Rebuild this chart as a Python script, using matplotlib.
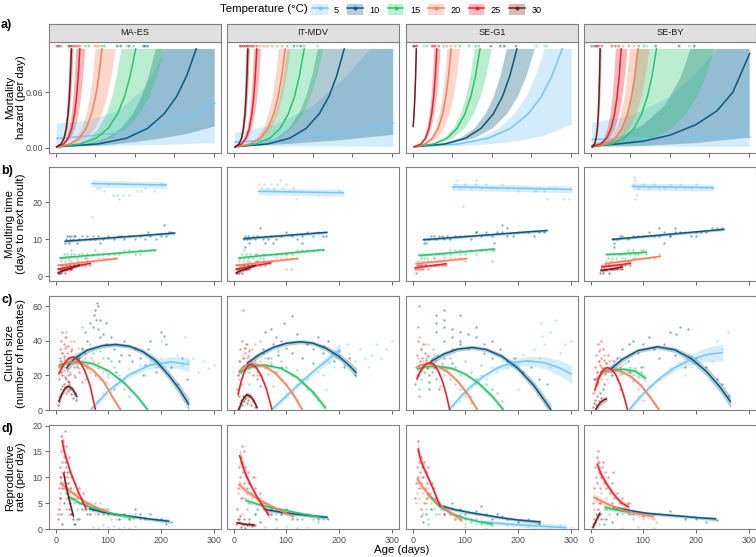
import matplotlib
matplotlib.use("Agg")
import matplotlib.pyplot as plt
from matplotlib.patches import Patch
from matplotlib.lines import Line2D

plt.rcParams['font.family'] = ['Liberation Sans', 'DejaVu Sans']

sites = ["MA-ES", "IT-MDV", "SE-G1", "SE-BY"]
temps = [5, 10, 15, 20, 25, 30]
colors = {5: "#74C6F8", 10: "#0B5A7E", 15: "#2BC46B", 20: "#F4805F", 25: "#E9212B", 30: "#7A1A1E"}

###########################################
###  a) mortality hazard (per day)      ###
lv = [0.001, 0.0041, 0.0103, 0.0209, 0.0366, 0.0556, 0.0775, 0.107]
cap = 0.107
rug_y = 0.110

haz_fit = {
    "MA-ES": {30: ([2, 10.4, 16, 20.2, 23.6, 26.1, 28, 30], lv),
              25: ([2, 15.2, 24, 30.6, 35.9, 39.8, 42.9, 46], lv),
              20: ([2, 27.8, 45, 57.9, 68.2, 76, 82, 88], lv),
              15: ([2, 47, 77, 99.5, 117.5, 131, 141.5, 152], lv),
              10: ([2, 81.5, 134.5, 174.3, 206, 229.9, 248.5, 267], lv),
              5: ([2, 50, 100, 150, 200, 250, 302], [0.010, 0.012, 0.015, 0.019, 0.025, 0.034, 0.048])},
    "IT-MDV": {30: ([3, 10.2, 15, 18.6, 21.5, 23.6, 25.3, 27], lv),
               25: ([3, 15.3, 23.5, 29.7, 34.6, 38.3, 41.1, 44], lv),
               20: ([3, 31.5, 50.5, 64.8, 76.2, 84.7, 91.4, 98], lv),
               15: ([3, 42.3, 68.5, 88.2, 103.9, 115.7, 124.8, 134], lv),
               10: ([3, 65.1, 106.5, 137.6, 162.4, 181, 195.5, 210], lv),
               5: ([3, 50, 100, 150, 200, 250, 303], [0.006, 0.0075, 0.0095, 0.0125, 0.016, 0.021, 0.027])},
    "SE-G1": {30: ([1, 2.5, 4, 5.5, 7], [0.023, 0.035, 0.052, 0.075, 0.107]),
              25: ([3, 15.9, 24.5, 31, 36.1, 40, 43, 46], lv),
              20: ([3, 24, 38, 48.5, 56.9, 63.2, 68.1, 73], lv),
              15: ([3, 40.5, 65.5, 84.3, 99.3, 110.5, 119.3, 128], lv),
              10: ([3, 61.5, 100.5, 129.8, 153.2, 170.7, 184.4, 198], lv),
              5: ([3, 87.3, 143.5, 185.7, 219.4, 244.7, 264.3, 284], lv)},
    "SE-BY": {30: ([3, 7.5, 10.5, 12.8, 14.6, 15.9, 17, 18], lv),
              25: ([3, 19.5, 30.5, 38.8, 45.4, 50.3, 54.2, 58], lv),
              20: ([3, 29.1, 46.5, 59.6, 70, 77.8, 83.9, 90], lv),
              15: ([3, 39.6, 64, 82.3, 96.9, 107.9, 116.5, 125], lv),
              10: ([3, 50, 100, 150, 200, 240, 270, 302], [0.002, 0.004, 0.007, 0.0135, 0.025, 0.040, 0.060, 0.102]),
              5: ([3, 100, 200, 302], [0.009, 0.010, 0.011, 0.012])},
}
haz_upper = {
    "MA-ES": {30: ([2, 9.5, 14.5, 18.3, 21.3, 23.5, 25.3, 27], lv),
              25: ([2, 13.1, 20.5, 26.1, 30.5, 33.8, 36.4, 39], lv),
              20: ([2, 24.2, 39, 50.1, 59, 65.6, 70.8, 76], lv),
              15: ([2, 38.9, 63.5, 82, 96.7, 107.8, 116.4, 125], lv),
              10: ([2, 58.4, 96, 124.2, 146.8, 163.7, 176.8, 190, 302], lv + [cap]),
              5: ([2, 60, 120, 170, 210, 302], [0.026, 0.029, 0.04, 0.065, 0.107, 0.107])},
    "IT-MDV": {30: ([3, 9.3, 13.5, 16.7, 19.2, 21.1, 22.5, 24], lv),
               25: ([3, 13.8, 21, 26.4, 30.7, 34, 36.5, 39], lv),
               20: ([3, 27.9, 44.5, 57, 66.9, 74.4, 80.2, 86], lv),
               15: ([3, 32.7, 52.5, 67.4, 79.2, 88.1, 95.1, 102], lv),
               10: ([3, 50.1, 81.5, 105, 123.9, 138, 149, 160, 303], lv + [cap]),
               5: ([3, 80, 150, 210, 260, 303], [0.016, 0.025, 0.045, 0.075, 0.107, 0.107])},
    "SE-G1": {30: ([0, 1.5, 3, 4.5, 6], [0.023, 0.035, 0.052, 0.075, 0.107]),
              25: ([3, 14.4, 22, 27.7, 32.3, 35.7, 38.3, 41], lv),
              20: ([3, 21.9, 34.5, 44, 51.5, 57.2, 61.6, 66], lv),
              15: ([3, 37.5, 60.5, 77.8, 91.6, 101.9, 110, 118], lv),
              10: ([3, 55.8, 91, 117.4, 138.5, 154.4, 166.7, 179], lv),
              5: ([3, 77.4, 127, 164.2, 194, 216.3, 233.6, 251, 302], lv + [cap])},
    "SE-BY": {30: ([3, 6.9, 9.5, 11.5, 13, 14.2, 15.1, 16], lv),
              25: ([3, 16.5, 25.5, 32.3, 37.7, 41.7, 44.9, 48], lv),
              20: ([3, 24.6, 39, 49.8, 58.4, 64.9, 70, 75], lv),
              15: ([3, 28.5, 45.5, 58.3, 68.5, 76.1, 82.1, 88], lv),
              10: ([3, 50, 100, 140, 170, 190, 302], [0.004, 0.010, 0.025, 0.045, 0.075, 0.107, 0.107]),
              5: ([3, 80, 150, 200, 240, 302], [0.027, 0.035, 0.055, 0.08, 0.107, 0.107])},
}
haz_lower = {
    "MA-ES": {30: ([2, 11.6, 18, 22.8, 26.6, 29.5, 31.8, 34], lv),
              25: ([2, 18.2, 29, 37.1, 43.6, 48.4, 52.2, 56], lv),
              20: ([2, 35.6, 58, 74.8, 88.2, 98.3, 106.2, 114], lv),
              15: ([2, 63.5, 104.5, 135.3, 159.9, 178.3, 192.7, 207], lv),
              10: ([2, 100, 150, 200, 250, 302], [0.0, 0.003, 0.006, 0.010, 0.015, 0.023]),
              5: ([2, 100, 200, 302], [0.0015, 0.002, 0.003, 0.005])},
    "IT-MDV": {30: ([3, 11.4, 17, 21.2, 24.6, 27.1, 29, 31], lv),
               25: ([3, 17.7, 27.5, 34.9, 40.7, 45.1, 48.6, 52], lv),
               20: ([3, 34.5, 55.5, 71.3, 83.9, 93.3, 100.7, 108], lv),
               15: ([3, 53.1, 86.5, 111.6, 131.6, 146.6, 158.3, 170], lv),
               10: ([3, 100, 200, 303], [0.001, 0.004, 0.008, 0.014]),
               5: ([3, 100, 200, 303], [0.0015, 0.0015, 0.0015, 0.001])},
    "SE-G1": {30: ([2, 3.5, 5, 6.5, 8], [0.023, 0.035, 0.052, 0.075, 0.107]),
              25: ([3, 18, 28, 35.5, 41.5, 46, 49.5, 53], lv),
              20: ([3, 29.1, 46.5, 59.6, 70, 77.8, 83.9, 90], lv),
              15: ([3, 47.1, 76.5, 98.6, 116.2, 129.4, 139.7, 150], lv),
              10: ([3, 71.7, 117.5, 151.9, 179.3, 200, 216, 232], lv),
              5: ([3, 100, 150, 200, 250, 302], [0.001, 0.002, 0.004, 0.007, 0.013, 0.025])},
    "SE-BY": {30: ([3, 8.4, 12, 14.7, 16.9, 18.5, 19.7, 21], lv),
              25: ([3, 23.1, 36.5, 46.6, 54.6, 60.6, 65.3, 70], lv),
              20: ([3, 35.7, 57.5, 73.9, 86.9, 96.7, 104.4, 112], lv),
              15: ([3, 72.6, 119, 153.8, 181.6, 202.5, 218.8, 235], lv),
              10: ([3, 100, 200, 302], [0.0005, 0.002, 0.005, 0.011]),
              5: ([3, 100, 200, 302], [0.002, 0.0015, 0.001, 0.001])},
}
# ages at death (rug along the top)
death_age = {
    "MA-ES": [2.2, 5.5, 8.6, 11.8, 24.6, 27.8, 31, 35.4, 39.3, 43.8, 48.2, 56.5, 62.9, 74.4, 78.8, 83.3,
              88.4, 93, 117, 123.5, 135, 139.5, 147.8, 167, 170, 174.6],
    "IT-MDV": [12.4, 15, 18.7, 22, 25.1, 28, 31.5, 35, 38, 44.4, 50.7, 57.1, 63.5, 73, 82.6, 92.2, 101.8,
               114.5, 121, 127.4, 133.8, 159.3],
    "SE-G1": [1.6, 4, 8, 20.8, 27.1, 36.7, 40, 43.1, 49.5, 59, 65.4, 73, 81.4, 89.6, 106.9, 119.6, 126,
              148.4, 166.3, 174, 196.3, 234.6, 250.6, 255],
    "SE-BY": [2.2, 5, 8.6, 12, 15, 21.4, 40.5, 46.9, 53.3, 61.6, 72.5, 82, 91.6, 101.2, 107.5, 123.5,
              168.2, 187.4, 197],
}
death_temp = {
    "MA-ES": [25, 10, 25, 5, 30, 30, 30, 25, 25, 25, 20, 15, 15, 20, 20, 20, 15, 15, 10, 10, 5, 10, 15, 10, 10, 10],
    "IT-MDV": [30, 25, 30, 25, 30, 25, 25, 25, 25, 25, 20, 20, 20, 20, 20, 20, 15, 10, 15, 10, 15, 5],
    "SE-G1": [30, 30, 30, 5, 15, 25, 25, 25, 25, 20, 20, 20, 20, 15, 15, 15, 15, 10, 10, 10, 10, 5, 5, 5],
    "SE-BY": [10, 5, 30, 30, 25, 25, 25, 25, 25, 20, 20, 20, 15, 15, 5, 10, 10, 5, 10],
}

###########################################
###  b) moulting time                    ###
moult_fit = {
    "MA-ES": {5: ([69, 210], [25.1, 24.7]), 10: ([18, 226], [9.5, 11.7]), 15: ([8.6, 189], [5.0, 7.1]),
              20: ([5, 116], [3.0, 4.8]), 25: ([5, 66], [2.0, 3.5]), 30: ([5, 45], [1.0, 3.0])},
    "IT-MDV": {5: ([47.5, 208.5], [23.0, 22.6]), 10: ([19, 177], [10.2, 11.9]), 15: ([10.5, 171], [5.0, 7.2]),
               20: ([5, 121], [3.0, 4.8]), 25: ([5, 70], [2.0, 3.6]), 30: ([5, 40], [1.0, 2.9])},
    "SE-G1": {5: ([76, 302], [24.2, 23.5]), 10: ([20.7, 255], [9.9, 12.4]), 15: ([12.4, 155], [5.6, 7.4]),
              20: ([6.7, 102.5], [3.4, 4.8]), 25: ([5, 63.5], [2.3, 3.4])},
    "SE-BY": {5: ([79, 233], [24.3, 24.0]), 10: ([41.5, 253], [10.0, 12.7]), 15: ([31, 105.7], [5.9, 6.5]),
              20: ([28, 132], [3.4, 5.4]), 25: ([21, 75.7], [2.5, 3.5]), 30: ([20, 60], [1.5, 2.5])},
}
moult_ci = {5: 0.9, 10: 0.35, 15: 0.3, 20: 0.3, 25: 0.3, 30: 0.4}
moult_pts = {
    "MA-ES": {
        5: ([69, 79, 85, 92, 108, 117, 120, 127, 140, 154, 162, 186, 100, 130, 170, 200],
            [16, 24, 24, 23, 22, 22, 21, 22, 22, 23, 23, 23, 25, 25, 24, 25]),
        10: ([18, 20, 22, 25, 28, 30, 33, 36, 40, 45, 50, 55, 60, 65, 70, 75, 80, 90, 100, 110, 120, 130, 140, 150,
              160, 170, 180, 190, 200, 210, 220, 25, 35, 85, 125, 175, 205, 215],
             [9, 10, 11, 9, 10, 11, 10, 11, 9, 10, 11, 10, 11, 10, 11, 10, 11, 10, 11, 10, 11, 10, 11, 10, 11, 10,
              11, 10, 11, 11, 12, 11, 11, 9, 11, 12, 14, 12]),
        15: ([9, 12, 15, 18, 22, 26, 30, 35, 40, 45, 50, 55, 60, 70, 80, 90, 100, 110, 120, 130, 140, 150, 160, 170,
              180, 188, 30, 75, 160],
             [5, 5, 6, 5, 6, 5, 6, 6, 5, 6, 6, 5, 6, 6, 6, 6, 6, 6, 6, 7, 7, 6, 7, 7, 7, 7, 7, 7, 6]),
        20: ([5, 8, 10, 12, 15, 18, 20, 25, 30, 35, 40, 45, 50, 55, 60, 70, 80, 90, 100, 110, 115, 30, 60],
             [3, 3, 4, 3, 3, 4, 3, 4, 4, 3, 4, 4, 4, 5, 4, 4, 5, 5, 5, 5, 5, 2, 5]),
        25: ([5, 7, 9, 11, 13, 15, 18, 20, 22, 25, 28, 30, 35, 40, 45, 50, 55, 60, 65],
             [2, 1, 2, 2, 3, 2, 2, 3, 2, 3, 3, 2, 3, 3, 3, 3, 3, 4, 3]),
        30: ([5, 7, 9, 11, 13, 15, 17, 20, 25, 30, 35, 40], [1, 1, 2, 1, 2, 2, 1, 2, 2, 2, 3, 3]),
    },
    "IT-MDV": {
        5: ([48, 52, 58, 64, 70, 76, 82, 88, 94, 100, 106, 112, 118, 130, 160, 200],
            [25, 24, 25, 24, 25, 24, 25, 26, 24, 25, 23, 24, 21, 23, 22, 23]),
        10: ([19, 22, 25, 28, 32, 36, 40, 45, 50, 55, 60, 65, 70, 80, 90, 100, 110, 120, 130, 140, 150, 160, 170,
              176, 22, 30, 60, 75, 130],
             [10, 11, 10, 11, 10, 11, 10, 11, 13, 10, 11, 10, 11, 10, 11, 12, 11, 10, 11, 12, 11, 12, 11, 11, 8, 9,
              9, 9, 9]),
        15: ([10, 13, 16, 20, 24, 28, 32, 36, 40, 45, 50, 55, 60, 70, 80, 90, 100, 110, 120, 130, 140, 150, 160,
              170, 20, 100],
             [5, 5, 6, 5, 6, 5, 6, 5, 6, 6, 5, 6, 6, 6, 6, 6, 6, 6, 7, 7, 7, 7, 7, 7, 7, 6]),
        20: ([5, 8, 10, 12, 15, 18, 20, 25, 30, 35, 40, 45, 50, 55, 60, 70, 80, 90, 100, 110, 120, 100, 108],
             [3, 3, 4, 3, 3, 4, 3, 4, 4, 3, 4, 4, 4, 5, 4, 4, 5, 5, 5, 5, 5, 2, 2]),
        25: ([5, 7, 9, 11, 13, 15, 18, 20, 22, 25, 28, 30, 35, 40, 45, 50, 55, 60, 65, 70],
             [2, 2, 3, 2, 3, 2, 3, 3, 2, 3, 3, 3, 3, 3, 4, 3, 4, 3, 4, 4]),
        30: ([5, 7, 9, 11, 13, 15, 18, 21, 25, 30, 35, 40], [1, 1, 2, 1, 2, 1, 2, 2, 2, 2, 3, 3]),
    },
    "SE-G1": {
        5: ([77, 80, 90, 100, 110, 120, 130, 140, 150, 160, 170, 180, 190, 200, 210, 220, 230, 240, 250, 260, 270,
             85, 120, 235, 255, 285, 297, 95],
            [24, 25, 24, 25, 24, 25, 24, 25, 24, 24, 25, 24, 24, 23, 24, 24, 23, 24, 23, 24, 24, 26, 26, 23, 21, 21,
             21, 19]),
        10: ([21, 25, 30, 35, 40, 45, 50, 55, 60, 65, 70, 80, 90, 100, 110, 120, 130, 140, 150, 160, 170, 180, 190,
              200, 210, 220, 230, 240, 250, 22, 180, 170, 120, 155],
             [10, 9, 10, 11, 11, 10, 11, 11, 10, 11, 10, 11, 11, 11, 10, 12, 11, 12, 11, 12, 12, 11, 11, 12, 12, 12,
              11, 12, 12, 9, 13, 14, 12, 9]),
        15: ([12, 15, 18, 21, 24, 27, 30, 35, 40, 45, 50, 55, 60, 70, 80, 90, 100, 110, 120, 130, 140, 150, 154, 70,
              90, 150],
             [6, 5, 6, 5, 6, 5, 6, 6, 5, 6, 6, 6, 6, 6, 7, 6, 6, 7, 6, 7, 7, 7, 7, 7, 7, 4]),
        20: ([7, 9, 11, 13, 15, 18, 21, 24, 27, 30, 35, 40, 45, 50, 55, 60, 70, 80, 90, 100],
             [3, 4, 3, 4, 3, 4, 4, 3, 4, 4, 4, 5, 4, 4, 4, 5, 5, 5, 5, 4]),
        25: ([5, 6, 8, 10, 12, 14, 16, 18, 20, 23, 26, 30, 35, 40, 45, 50, 55, 60, 63],
             [2, 1, 2, 3, 2, 3, 2, 3, 2, 3, 3, 2, 3, 3, 3, 3, 3, 3, 3]),
    },
    "SE-BY": {
        5: ([80, 85, 90, 100, 110, 120, 130, 140, 150, 160, 170, 180, 190, 200, 210, 220, 230, 82, 84, 88],
            [25, 26, 24, 25, 24, 25, 24, 24, 25, 24, 25, 24, 24, 25, 24, 24, 24, 27, 21, 22]),
        10: ([42, 45, 50, 55, 60, 70, 80, 90, 100, 110, 120, 130, 140, 150, 160, 170, 180, 190, 200, 210, 220, 230,
              240, 250, 45, 130, 140, 150, 200, 160],
             [10, 9, 10, 11, 11, 10, 11, 11, 11, 12, 11, 11, 12, 11, 12, 12, 12, 11, 12, 12, 12, 13, 13, 13, 8, 13,
              9, 11, 11, 13]),
        15: ([30, 33, 36, 40, 44, 48, 52, 56, 60, 65, 70, 75, 80, 85, 90, 95, 100, 105, 60, 85],
             [6, 5, 6, 5, 6, 5, 6, 6, 6, 6, 7, 6, 7, 6, 6, 7, 7, 6, 5, 5]),
        20: ([28, 30, 33, 36, 40, 45, 50, 55, 60, 65, 70, 75, 80, 90, 100, 110, 120, 130],
             [3, 4, 3, 4, 4, 3, 4, 4, 4, 5, 4, 4, 5, 5, 5, 5, 5, 6]),
        25: ([20, 22, 25, 28, 30, 33, 36, 40, 45, 50, 55, 60, 65, 70, 75],
             [2, 3, 2, 3, 2, 3, 3, 3, 3, 3, 2, 3, 3, 4, 3]),
        30: ([18, 20, 23, 26, 30, 34, 38, 42, 46, 50, 55, 60], [1, 2, 1, 2, 2, 1, 2, 2, 2, 2, 3, 2]),
    },
}

###########################################
###  c) clutch size                      ###
# (age, fitted clutch size, half width of band)
clutch_fit = {
    "MA-ES": {
        5: ([66, 100, 140, 180, 219, 254], [0, 11.0, 20.4, 26.0, 27.8, 26.3], [1.5, 1.5, 1.5, 2, 3, 4]),
        10: ([20, 35, 60, 90, 114, 140, 165, 190, 215, 235, 253],
             [24, 29.5, 34.5, 37.2, 37.8, 36.8, 33.8, 28.5, 20, 12, 3.1],
             [3, 2.5, 1.5, 1.2, 1.2, 1.2, 1.5, 2, 2.5, 3, 3.5]),
        15: ([5.5, 20, 42, 70, 100, 130, 155, 175], [25.9, 27.2, 28, 26.8, 22.7, 15.7, 7.8, 0],
             [1.5, 1, 1, 1, 1, 1.2, 1.5, 1.5]),
        20: ([5.5, 20, 34, 50, 70, 90, 110, 123.6], [24.9, 27, 27.7, 26.8, 23.2, 16.9, 6.4, 0],
             [1.5, 1, 1, 1, 1.2, 1.2, 1.5, 1.5]),
        25: ([5.5, 15, 25, 33, 45, 55, 65, 75.7], [20.6, 26.4, 29.9, 30.7, 28.3, 22.9, 14.4, 0],
             [1.5, 1, 1, 1, 1, 1.2, 1.5, 1.5]),
        30: ([5.5, 12, 18, 25, 32, 40.5], [4.6, 9.5, 12.6, 13.7, 12.2, 7.5], [2, 1.5, 1.5, 1.5, 1.5, 2]),
    },
    "IT-MDV": {
        5: ([71, 100, 130, 160, 185, 202], [0, 8, 16.5, 24.5, 30.5, 35], [1.5, 1.5, 1.5, 2, 3, 4]),
        10: ([25, 50, 75, 100, 127, 150, 175, 200, 220, 233],
             [26.8, 32.2, 36.1, 38.5, 39.4, 38.6, 35.7, 30.9, 25.6, 21.4],
             [2, 1.5, 1.2, 1.2, 1.2, 1.2, 1.5, 2, 2.5, 3]),
        15: ([9.5, 30, 57.5, 90, 120, 150, 175], [21.6, 24.6, 26, 24.1, 18.9, 10.5, 1],
             [1.5, 1, 1, 1, 1.2, 1.5, 2]),
        20: ([9.4, 20, 35, 60, 80, 100, 115, 130.6], [22, 25.5, 27, 25.2, 21, 14.5, 8.1, 0],
             [1.5, 1, 1, 1, 1.2, 1.2, 1.5, 1.5]),
        25: ([8, 14, 20, 26, 32, 42, 52, 62, 73], [8.5, 16.4, 21.9, 25.3, 26.4, 24.8, 20.1, 12.3, 0],
             [2, 1.5, 1, 1, 1, 1, 1.2, 1.5, 1.5]),
        30: ([9.4, 15, 20, 25.5, 31, 38, 45], [0, 4.5, 7.3, 8.7, 8.2, 5.5, 1], [1.5, 1.5, 1.5, 1.5, 1.5, 1.5, 1.5]),
    },
    "SE-G1": {
        5: ([68.6, 100, 130, 160, 190, 218.7, 250, 280, 302], [0, 10.7, 18.5, 24.1, 27.4, 28.4, 27.3, 24.2, 20.6],
            [1.5, 1.5, 1.5, 1.5, 2, 2.5, 3.5, 4.5, 5]),
        10: ([33.5, 60, 85, 113, 140, 170, 200, 230, 263], [27.8, 32.4, 35.1, 36.1, 34.9, 30.9, 24, 14.2, 0],
             [2, 1.5, 1.2, 1.2, 1.2, 1.5, 2, 2.5, 3]),
        15: ([8, 25, 46, 75, 100, 125, 150, 172.7], [23.5, 24.9, 25.3, 24, 20.7, 15.5, 8.3, 0],
             [1.5, 1, 1, 1, 1, 1.2, 1.5, 1.5]),
        20: ([8, 18, 27, 45, 65, 85, 105, 123], [25, 26.2, 26.5, 25.6, 22.4, 16.8, 9.0, 0],
             [1.5, 1, 1, 1, 1.2, 1.2, 1.5, 1.5]),
        25: ([7.3, 15, 22, 28, 33, 40, 48, 56, 63, 70.5], [17.6, 22.6, 25.6, 27, 27.4, 26.4, 23, 17.1, 9.9, 0],
             [2, 1.5, 1, 1, 1, 1, 1, 1.2, 1.5, 1.5]),
    },
    "SE-BY": {
        5: ([72.5, 100, 130, 160, 190, 220, 251], [0, 9.5, 18, 24.5, 29, 32, 33.2], [1.5, 1.5, 1.5, 2, 3, 4, 5]),
        10: ([37.4, 60, 90, 126.8, 160, 190, 220, 245, 266], [23.4, 29.2, 34.3, 36.5, 34.7, 29.9, 22.2, 13.5, 4.6],
             [2.5, 1.5, 1.2, 1.2, 1.5, 2, 2.5, 3, 3.5]),
        15: ([18, 40, 63, 85, 105], [22, 23.1, 23.5, 22.4, 18.2], [1.5, 1.2, 1.2, 1.5, 2]),
        20: ([9, 18, 28, 38, 55, 75, 95, 113, 130], [17, 20.4, 22.6, 23.4, 22.6, 19.6, 14.4, 7.5, 0],
             [2, 1.5, 1.2, 1, 1, 1.2, 1.2, 1.5, 1.5]),
        25: ([7.4, 14, 20, 26, 32, 40, 48, 56, 63, 70], [11, 17.3, 21.3, 23.7, 24.5, 23.4, 20.2, 14.7, 8.2, 0],
             [2, 1.5, 1.2, 1, 1, 1, 1.2, 1.2, 1.5, 1.5]),
        30: ([9, 15, 20, 26, 31], [0, 3, 4.8, 6, 6.5], [1.5, 1.5, 1.5, 1.5, 1.5]),
    },
}
clutch_pts = {
    "MA-ES": {
        25: ([6, 7, 8, 9, 10, 10, 11, 12, 13, 14, 15, 15, 16, 17, 18, 19, 20, 21, 22, 23, 25, 27, 29, 31, 34, 37,
              40, 45, 50, 8, 12, 16, 20, 24],
             [18, 25, 30, 35, 22, 40, 28, 33, 45, 26, 31, 38, 23, 36, 29, 42, 27, 33, 24, 37, 30, 21, 34, 28, 25, 19,
              30, 22, 16, 8, 14, 12, 10, 20]),
        20: ([8, 12, 16, 20, 24, 28, 32, 36, 40, 45, 50, 55, 60, 65, 70, 75, 80, 85, 90, 95, 100, 110, 18, 30, 42,
              55, 68],
             [28, 33, 25, 37, 30, 22, 35, 27, 31, 24, 29, 33, 26, 22, 28, 20, 24, 18, 22, 16, 19, 12, 42, 40, 36, 18,
              30]),
        15: ([10, 15, 20, 25, 30, 35, 40, 45, 50, 55, 60, 70, 80, 90, 100, 110, 120, 130, 140, 25, 35, 50, 65, 75,
              85, 95, 105, 115],
             [22, 30, 45, 28, 35, 40, 26, 32, 48, 30, 24, 33, 27, 30, 21, 25, 18, 12, 8, 15, 20, 36, 38, 20, 34, 23,
              28, 15]),
        10: ([40, 45, 50, 55, 60, 65, 70, 72, 75, 78, 80, 85, 90, 95, 100, 105, 110, 120, 130, 140, 150, 160, 170,
              180, 190, 200, 210, 220, 230, 240, 250, 76, 80, 85, 95, 125, 145, 175, 205, 165, 115],
             [25, 30, 35, 45, 40, 50, 48, 55, 58, 62, 60, 52, 44, 38, 30, 42, 35, 28, 40, 32, 36, 30, 26, 40, 22, 45,
              38, 25, 15, 30, 18, 52, 47, 42, 50, 32, 28, 35, 43, 20, 22]),
        5: ([80, 90, 100, 110, 120, 130, 140, 150, 160, 170, 180, 190, 200, 210, 220, 230, 240, 250, 260, 270, 280,
             290, 300, 150, 200, 245],
            [5, 10, 15, 12, 20, 18, 24, 22, 26, 20, 28, 25, 30, 27, 24, 32, 26, 28, 30, 22, 28, 24, 26, 35, 40, 42]),
        30: ([5, 7, 9, 11, 13, 15, 17, 19, 21, 23, 25, 27, 30, 33, 36, 39, 12, 18, 24],
             [3, 5, 8, 12, 10, 15, 13, 18, 14, 11, 16, 12, 9, 7, 10, 6, 20, 19, 17]),
    },
    "IT-MDV": {
        25: ([6, 8, 10, 12, 14, 16, 18, 18, 20, 22, 24, 26, 28, 30, 33, 36, 40, 45, 50, 10, 14, 22, 30],
             [12, 20, 28, 35, 22, 40, 30, 58, 25, 33, 38, 27, 31, 24, 29, 20, 26, 18, 14, 8, 15, 36, 34]),
        20: ([8, 12, 16, 20, 25, 30, 35, 40, 45, 50, 55, 60, 65, 70, 80, 90, 100, 110, 120, 20, 40, 60, 75],
             [20, 28, 32, 24, 30, 35, 26, 31, 22, 28, 33, 25, 21, 27, 22, 18, 15, 10, 6, 36, 38, 30, 14]),
        15: ([10, 15, 20, 25, 30, 35, 40, 45, 50, 55, 60, 70, 80, 90, 100, 110, 120, 130, 140, 150, 160, 30, 45, 85],
             [18, 25, 30, 38, 22, 35, 28, 32, 40, 26, 24, 30, 22, 28, 25, 20, 23, 18, 12, 10, 6, 15, 20, 34]),
        10: ([50, 55, 60, 65, 70, 75, 80, 85, 90, 95, 100, 110, 120, 130, 140, 150, 160, 170, 180, 190, 200, 210,
              220, 230, 70, 90, 110, 150, 170],
             [20, 35, 45, 30, 47, 38, 42, 32, 40, 50, 36, 54, 44, 30, 38, 35, 42, 33, 40, 28, 34, 25, 30, 20, 26, 25,
              33, 27, 37]),
        5: ([100, 120, 140, 160, 170, 180, 190, 200, 210, 220, 230, 240, 250, 260, 270, 280, 290, 300, 175, 215, 255],
            [10, 15, 18, 22, 20, 28, 25, 30, 26, 33, 28, 35, 30, 32, 38, 30, 35, 40, 12, 38, 25]),
        30: ([8, 10, 12, 14, 16, 18, 20, 22, 24, 26, 28, 30, 33, 36, 40],
             [0.5, 2, 4, 6, 3, 8, 5, 7, 9, 4, 6, 8, 3, 5, 2]),
    },
    "SE-G1": {
        25: ([5, 7, 8, 10, 11, 12, 14, 15, 16, 18, 20, 22, 24, 26, 28, 30, 33, 36, 40, 45, 50, 10, 12],
             [15, 25, 32, 40, 20, 60, 28, 35, 23, 30, 38, 26, 33, 29, 24, 31, 27, 22, 25, 18, 12, 48, 8]),
        20: ([8, 10, 13, 16, 20, 24, 28, 32, 36, 40, 45, 50, 55, 60, 65, 70, 80, 90, 100, 110, 12, 30],
             [20, 30, 25, 35, 28, 22, 32, 27, 30, 24, 29, 22, 26, 20, 24, 18, 15, 12, 8, 4, 42, 38]),
        15: ([12, 15, 18, 22, 26, 30, 34, 38, 42, 46, 50, 55, 60, 70, 80, 90, 100, 110, 120, 130, 140, 150, 160,
              170, 24, 40, 52],
             [12, 18, 26, 22, 30, 24, 28, 35, 25, 32, 20, 27, 23, 30, 25, 20, 28, 22, 18, 26, 15, 12, 10, 5, 38, 32,
              14]),
        10: ([45, 45, 45, 60, 60, 60, 60, 75, 75, 75, 90, 90, 90, 105, 105, 120, 120, 135, 135, 150, 150, 165, 180,
              195, 210, 225, 240, 255, 60, 75, 90, 31, 31, 31],
             [45, 50, 55, 40, 48, 52, 58, 35, 42, 47, 40, 45, 38, 44, 36, 42, 48, 38, 33, 40, 30, 35, 28, 30, 22, 25,
              18, 15, 30, 27, 55, 12, 16, 20]),
        5: ([90, 100, 110, 120, 130, 140, 150, 160, 170, 180, 190, 200, 210, 220, 230, 240, 250, 260, 270, 280, 290,
             300, 260, 200, 244, 246],
            [5, 10, 8, 15, 20, 18, 25, 22, 28, 24, 30, 27, 32, 28, 35, 30, 38, 45, 52, 33, 38, 40, 25, 12, 50, 43]),
    },
    "SE-BY": {
        25: ([5, 7, 9, 10, 12, 14, 15, 16, 18, 20, 22, 24, 26, 28, 30, 33, 36, 40, 45, 50, 55, 12, 20],
             [10, 18, 25, 32, 22, 38, 28, 34, 26, 30, 24, 35, 29, 21, 27, 32, 25, 23, 28, 18, 12, 15, 40]),
        20: ([8, 12, 16, 20, 25, 30, 35, 40, 45, 50, 55, 60, 70, 80, 90, 100, 18, 32],
             [15, 22, 28, 25, 32, 27, 22, 29, 24, 30, 21, 26, 22, 17, 12, 6, 35, 18]),
        15: ([20, 25, 30, 35, 40, 45, 50, 55, 60, 65, 70, 75, 80, 85, 90, 95, 100],
             [18, 25, 22, 28, 20, 26, 24, 30, 21, 27, 23, 25, 20, 24, 19, 22, 25]),
        10: ([40, 50, 60, 70, 80, 90, 100, 110, 120, 130, 140, 150, 160, 170, 180, 200, 220, 240, 250, 260, 55, 75,
              95, 72, 162, 184],
             [20, 30, 35, 28, 40, 33, 38, 42, 35, 30, 38, 45, 32, 48, 25, 30, 25, 18, 15, 8, 25, 22, 25, 38, 44, 47]),
        5: ([90, 110, 130, 150, 170, 190, 210, 230, 250, 260, 180, 220, 240],
            [8, 14, 18, 24, 27, 25, 30, 28, 35, 45, 20, 32, 40]),
        30: ([5, 7, 9, 11, 13, 15, 17, 20, 23, 26, 8, 14], [2, 4, 6, 3, 8, 5, 10, 7, 12, 15, 18, 16]),
    },
}

###########################################
###  d) reproductive rate                ###
repro_fit = {
    "MA-ES": {
        25: ([12, 16, 21, 27, 34, 40, 47, 53, 58], [17.2, 15.2, 13.4, 11.4, 9.5, 7.9, 6.3, 5.0, 4.0],
             [1.8, 1.2, 0.8, 0.6, 0.5, 0.5, 0.5, 0.5, 0.6]),
        30: ([15, 20, 25, 30, 34], [10.9, 8.3, 6.0, 4.0, 2.4], [1.2, 0.8, 0.6, 0.6, 0.8]),
        20: ([8, 20, 35, 50, 65, 80, 98], [9, 8, 6.8, 5.7, 4.8, 4.1, 3.4], [0.8, 0.5, 0.4, 0.4, 0.4, 0.4, 0.5]),
        15: ([25, 45, 65, 85, 110, 130, 150], [6.3, 5.1, 4.3, 3.7, 3.0, 2.6, 2.2], [0.6, 0.4, 0.3, 0.3, 0.3, 0.3, 0.4]),
        10: ([63, 90, 120, 150, 185, 216], [4.0, 3.3, 2.8, 2.4, 1.9, 1.55], [0.4, 0.3, 0.3, 0.3, 0.3, 0.4]),
    },
    "IT-MDV": {
        25: ([11, 18, 25, 35, 44, 55, 67], [14.3, 12, 10.1, 8, 6.3, 4.5, 2.7], [1.5, 1, 0.7, 0.5, 0.5, 0.5, 0.6]),
        20: ([9, 25, 45, 65, 85, 100, 115], [8.7, 7.3, 5.9, 4.8, 3.8, 3.1, 2.4], [0.8, 0.5, 0.4, 0.4, 0.4, 0.4, 0.5]),
        15: ([22, 50, 80, 110, 140, 166], [5.6, 4.7, 4, 3.4, 2.8, 2.3], [0.5, 0.3, 0.3, 0.3, 0.3, 0.4]),
        10: ([60, 90, 120, 150, 178.5], [3.8, 3.3, 2.9, 2.6, 2.3], [0.4, 0.3, 0.3, 0.3, 0.4]),
        30: ([5, 20, 40], [1.3, 1.0, 0.8], [0.3, 0.3, 0.3]),
    },
    "SE-G1": {
        25: ([10, 15, 20.5, 27, 33, 40, 46, 53], [15.6, 13.5, 12, 10.5, 9.2, 7.5, 6, 4.3],
             [1.5, 1, 0.8, 0.6, 0.5, 0.5, 0.5, 0.6]),
        20: ([8, 20, 35, 50, 65, 80, 94], [9.8, 8, 6.2, 4.9, 3.7, 2.7, 1.7], [0.8, 0.5, 0.4, 0.4, 0.4, 0.4, 0.5]),
        15: ([27, 50, 75, 100, 125, 152], [6.9, 4.5, 3.0, 2.1, 1.5, 1.0], [0.5, 0.3, 0.3, 0.3, 0.3, 0.4]),
        10: ([50, 80, 110, 140, 170, 200, 243], [4.6, 3.8, 3.2, 2.7, 2.2, 1.8, 1.4],
             [0.4, 0.3, 0.3, 0.3, 0.3, 0.3, 0.4]),
        5: ([128, 160, 190, 220, 250, 292], [1.5, 1.2, 0.95, 0.75, 0.55, 0.3], [0.4, 0.4, 0.4, 0.5, 0.6, 0.7]),
    },
    "SE-BY": {
        25: ([12, 20, 30, 40, 50, 60, 72.5], [12.7, 10.6, 8.8, 7.3, 6, 5, 4.3], [1.2, 0.8, 0.6, 0.5, 0.5, 0.5, 0.6]),
        20: ([5, 25, 45, 65, 85, 105, 120], [6.2, 5.2, 4.3, 3.6, 3.1, 2.7, 2.4], [0.7, 0.5, 0.4, 0.4, 0.4, 0.5, 0.6]),
        15: ([26, 40, 55, 75], [4.3, 3.9, 3.6, 3.3], [0.5, 0.4, 0.4, 0.5]),
        10: ([42, 75, 106, 140, 175, 210, 238.5], [4.3, 3.6, 3.1, 2.8, 2.5, 2.2, 2.0],
             [0.4, 0.3, 0.3, 0.3, 0.3, 0.3, 0.4]),
        30: ([4, 10, 18], [0.3, 1.6, 3.2], [0.5, 0.5, 0.6]),
    },
}
repro_pts = {
    "MA-ES": {
        25: ([5, 6, 8, 9, 10, 11, 12, 13, 14, 15, 16, 17, 18, 19, 20, 21, 22, 24, 26, 28, 30, 33, 36, 40, 44, 48,
              52, 56, 60, 65, 70, 10, 14, 18, 25],
             [3, 8, 12, 6, 15, 10, 13, 9, 17, 11, 14, 19, 8, 12, 16, 10, 13, 9, 11, 8, 10, 7, 9, 6, 8, 5, 7, 4, 5, 3,
              4, 18, 16, 13, 14]),
        20: ([6, 8, 10, 12, 15, 18, 20, 23, 26, 30, 35, 40, 45, 50, 55, 60, 65, 70, 75, 80, 85, 90, 95, 100, 105,
              110, 115],
             [5, 7, 9, 11, 8, 10, 6, 9, 7, 8, 6, 7, 5, 6, 5, 4, 5, 4, 3, 4, 5, 3, 4, 3, 2, 3, 2]),
        15: ([20, 25, 30, 35, 40, 45, 50, 55, 60, 65, 70, 75, 80, 90, 100, 110, 120, 130, 140, 150, 160, 25, 35],
             [4, 5, 6, 5, 4, 6, 5, 4, 5, 3, 4, 5, 4, 3, 4, 3, 2, 3, 2, 3, 2, 3, 7]),
        10: ([30, 40, 50, 60, 70, 80, 90, 100, 110, 120, 130, 140, 150, 160, 170, 180, 190, 200, 210, 220, 35, 45],
             [3, 2, 4, 3, 4, 3, 4, 3, 3, 2, 3, 2, 4, 3, 2, 3, 2, 2, 1, 1.5, 1, 2]),
        30: ([5, 7, 9, 11, 13, 15, 17, 19, 21, 23, 25, 27, 30, 33, 36, 8, 12],
             [2, 4, 6, 3, 8, 5, 9, 7, 11, 6, 4, 5, 3, 2, 1, 10, 1]),
        5: ([70, 80, 90, 100, 110, 120, 130, 140, 150], [0.5, 0.3, 0.8, 0.4, 0.6, 0.2, 0.5, 0.3, 0.7]),
    },
    "IT-MDV": {
        25: ([6, 8, 10, 12, 14, 15, 16, 18, 20, 22, 24, 26, 28, 30, 33, 36, 40, 45, 50, 55, 60, 65, 70, 10, 14, 20],
             [4, 8, 12, 10, 14, 16, 13, 11, 9, 12, 10, 8, 11, 9, 7, 10, 8, 6, 7, 5, 4, 3, 4, 2, 6, 15]),
        20: ([8, 12, 16, 20, 25, 30, 35, 40, 45, 50, 55, 60, 70, 80, 90, 100, 110, 120, 15, 40],
             [7, 9, 6, 8, 7, 9, 6, 7, 5, 6, 4, 5, 4, 3, 4, 3, 2, 3, 3, 10]),
        15: ([20, 25, 30, 40, 50, 60, 70, 80, 90, 100, 110, 120, 130, 140, 150, 160, 170],
             [6, 4, 5, 3, 5, 4, 3, 4, 3, 4, 2, 3, 2, 3, 2, 1.5, 2]),
        10: ([30, 40, 50, 60, 70, 80, 90, 100, 120, 140, 160, 180, 35, 45],
             [2, 3, 1.5, 4, 3, 2, 3, 4, 2, 3, 2, 2, 1, 4]),
        30: ([5, 8, 11, 14, 17, 20, 25, 30, 35, 40, 12, 22], [1, 2, 1.5, 0.5, 1, 2, 0.8, 1.2, 0.6, 0.9, 2.5, 0.3]),
        5: ([60, 80, 100, 120, 140], [0.5, 0.3, 0.6, 0.2, 0.4]),
    },
    "SE-G1": {
        25: ([5, 7, 8, 10, 11, 12, 13, 14, 15, 16, 18, 20, 22, 24, 26, 28, 30, 33, 36, 40, 45, 50, 55, 60, 10, 15,
              22, 28],
             [6, 9, 12, 15, 10, 13, 8, 11, 14, 9, 12, 10, 13, 8, 11, 9, 12, 7, 9, 8, 6, 5, 4, 3, 17, 4, 5, 6]),
        20: ([6, 8, 10, 12, 15, 18, 20, 25, 30, 35, 40, 45, 50, 60, 70, 80, 90, 100],
             [5, 7, 9, 6, 8, 10, 7, 6, 8, 5, 4, 6, 3, 4, 3, 2, 2, 1]),
        15: ([20, 25, 30, 35, 40, 45, 50, 60, 70, 80, 90, 100, 110, 120, 130, 140, 150, 25, 30],
             [3, 5, 2, 4, 6, 3, 5, 4, 3, 2, 3, 2, 1.5, 2, 1, 1.5, 0.8, 4, 1]),
        10: ([20, 25, 35, 45, 60, 75, 90, 100, 110, 120, 130, 140, 150, 160, 170, 180, 200, 220, 240, 15, 60],
             [1.5, 3, 4, 5, 4.5, 5, 4, 3, 2, 3.5, 4.5, 3, 2, 3, 2.5, 2, 1.5, 2, 1, 2.5, 3]),
        5: ([100, 120, 140, 160, 180, 200, 220, 240, 260, 280, 300],
            [0.5, 1, 0.3, 1.2, 0.8, 1.5, 0.6, 1, 0.5, 0.8, 0.4]),
    },
    "SE-BY": {
        25: ([5, 7, 9, 10, 12, 13, 15, 16, 18, 20, 22, 25, 28, 30, 33, 36, 40, 45, 50, 55, 60, 65, 70, 75, 14, 24,
              42],
             [5, 8, 12, 10, 14, 9, 11, 13, 8, 10, 12, 9, 11, 8, 10, 7, 9, 6, 7, 5, 6, 4, 5, 3, 15, 13, 11]),
        20: ([6, 10, 15, 20, 25, 30, 35, 40, 50, 60, 70, 80, 90, 100, 110, 120, 125],
             [4, 6, 5, 7, 4, 6, 3, 5, 4, 3, 4, 2, 3, 2, 3, 2, 1.5]),
        15: ([15, 20, 25, 30, 40, 50, 60, 70, 75], [1, 3, 2, 4, 5, 3, 4, 3, 5]),
        10: ([25, 30, 40, 50, 60, 80, 100, 120, 150, 180, 200, 220, 240],
             [1, 2, 1.5, 3, 4, 3, 2.5, 3, 3.5, 2, 2, 1.5, 1.8]),
        30: ([3, 5, 6, 8, 10, 12, 14, 16, 18, 20], [0.5, 1, 2, 1.5, 3, 2.5, 4, 3, 5, 2]),
        5: ([60, 90, 120], [0.3, 0.5, 0.2]),
    },
}

###########################################
###  figure layout                       ###
W, H = 756, 557
fig = plt.figure(figsize=(W / 100, H / 100), dpi=100)

col_left = [49, 227, 406, 584]
col_w = 172
row_span = {"a": (41.7, 152.7), "b": (167.3, 280.7), "c": (296, 410), "d": (425, 529.3)}
row_ylim = {"a": (-0.0054, 0.1148), "b": (-1.2, 29.5), "c": (0, 65.8), "d": (0, 20.1)}
row_yticks = {"a": [0, 0.06], "b": [0, 10, 20], "c": [0, 20, 40, 60], "d": [0, 5, 10, 15, 20]}
row_ylab = {"a": ["Mortality", "hazard (per day)"], "b": ["Moulting time", "(days to next moult)"],
            "c": ["Clutch size", "(number of neonates)"], "d": ["Reproductive", "rate (per day)"]}
border = "#808080"


def make_axes(row, j):
    top, bot = row_span[row]
    ax = fig.add_axes([col_left[j] / W, 1 - bot / H, col_w / W, (bot - top) / H])
    ax.set_xlim(-12.6, 314)
    ax.set_ylim(*row_ylim[row])
    ax.set_xticks([0, 75, 150, 225, 300] if row == "a" else [0, 100, 200, 300])
    ax.set_yticks(row_yticks[row])
    if row == "a":
        ax.set_yticklabels(["0.00", "0.06"])
    for s in ax.spines.values():
        s.set_color(border)
        s.set_linewidth(0.8)
    ax.tick_params(length=3, width=0.6, color="#4D4D4D", labelsize=6.4, labelcolor="#4D4D4D", pad=1.5)
    if j > 0:
        ax.tick_params(axis="y", left=False, labelleft=False)
    if row != "d":
        ax.tick_params(axis="x", labelbottom=False)
    return ax


def band(ax, fits, site, lw=1.1):
    for t in temps:
        if t not in fits[site]:
            continue
        x, y, hw = fits[site][t]
        ax.fill_between(x, [a - b for a, b in zip(y, hw)], [a + b for a, b in zip(y, hw)],
                        color=colors[t], alpha=0.3, lw=0)
    for t in temps:
        if t not in fits[site]:
            continue
        x, y, hw = fits[site][t]
        ax.plot(x, y, color=colors[t], lw=lw, solid_capstyle="butt")


def dots(ax, pts, site):
    for t in temps:
        if t not in pts[site]:
            continue
        x, y = pts[site][t]
        ax.scatter(x, y, s=2.8, color=colors[t], alpha=0.5, lw=0)


for j, site in enumerate(sites):
    # a) hazard
    ax = make_axes("a", j)
    for t in temps:
        ux, uy = haz_upper[site][t]
        lx, ly = haz_lower[site][t]
        ax.fill(list(ux) + list(lx)[::-1], list(uy) + list(ly)[::-1], color=colors[t], alpha=0.32, lw=0)
    for t in temps:
        x, y = haz_fit[site][t]
        ax.plot(x, y, color=colors[t], lw=1.1)
    ax.scatter(death_age[site], [rug_y] * len(death_age[site]),
               color=[colors[t] for t in death_temp[site]], s=4, alpha=0.5, lw=0)
    # strip
    top = row_span["a"][0]
    sax = fig.add_axes([col_left[j] / W, 1 - top / H, col_w / W, (top - 24) / H])
    sax.set_facecolor("#E0E0E0")
    sax.set_xticks([])
    sax.set_yticks([])
    for s in sax.spines.values():
        s.set_color(border)
        s.set_linewidth(0.8)
    sax.text(0.5, 0.5, site, ha="center", va="center", fontsize=6.6, color="#1A1A1A", transform=sax.transAxes)

    # b) moulting time
    ax = make_axes("b", j)
    for t in temps:
        if t not in moult_fit[site]:
            continue
        x, y = moult_fit[site][t]
        ax.fill_between(x, [v - moult_ci[t] for v in y], [v + moult_ci[t] for v in y],
                        color=colors[t], alpha=0.3, lw=0)
    dots(ax, moult_pts, site)
    for t in temps:
        if t not in moult_fit[site]:
            continue
        x, y = moult_fit[site][t]
        ax.plot(x, y, color=colors[t], lw=1.1)

    # c) clutch size
    ax = make_axes("c", j)
    dots(ax, clutch_pts, site)
    band(ax, clutch_fit, site)

    # d) reproductive rate
    ax = make_axes("d", j)
    dots(ax, repro_pts, site)
    band(ax, repro_fit, site)

for row in "abcd":
    top, bot = row_span[row]
    yc = 1 - (top + bot) / 2 / H
    line1, line2 = row_ylab[row]
    fig.text(10 / W, yc, line1, rotation=90, ha="center", va="center", fontsize=8.2)
    fig.text(21 / W, yc, line2, rotation=90, ha="center", va="center", fontsize=8.2)
    ytop = 25 if row == "a" else top + 4
    fig.text(1 / W, 1 - ytop / H, row + ")", fontsize=9, fontweight="bold", ha="left", va="center")

fig.text(402 / W, 1 - 550 / H, "Age (days)", ha="center", va="center", fontsize=8.2)

# legend
fig.text(220 / W, 1 - 9.5 / H, "Temperature (°C)", ha="left", va="center", fontsize=8.2)
handles = [(Patch(facecolor=colors[t], alpha=0.3, lw=0),
            Line2D([], [], color=colors[t], lw=1.1, marker="o", markersize=1.8)) for t in temps]
fig.legend(handles, [str(t) for t in temps], loc="center left", bbox_to_anchor=(312 / W, 1 - 9.5 / H),
           ncol=6, frameon=False, fontsize=6.6, handlelength=1.7, handleheight=1.6, columnspacing=0.9,
           handletextpad=0.7, borderpad=0, borderaxespad=0)

fig.savefig("out.png", dpi=100)
